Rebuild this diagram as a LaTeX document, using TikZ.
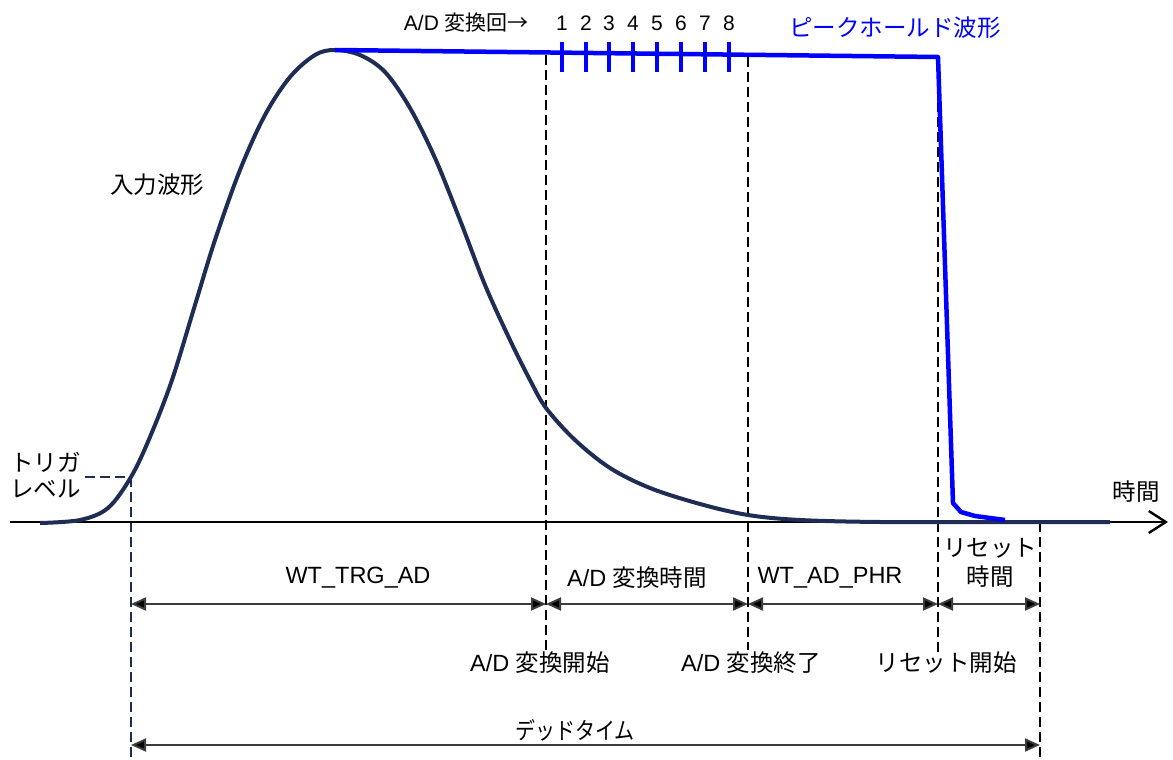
\documentclass[tikz,border=0pt]{standalone}
\usepackage{fontspec}
\setmainfont{Liberation Sans}
\newfontfamily\jp{Noto Sans CJK JP}
\usetikzlibrary{arrows.meta}
\definecolor{navy}{RGB}{31,45,84}
\definecolor{pkblue}{RGB}{0,0,255}
\definecolor{dimgray}{RGB}{60,60,60}
\tikzset{
  lbl/.style={font=\fontsize{23.5}{28}\selectfont, inner sep=0pt},
  num/.style={font=\fontsize{21}{24}\selectfont, inner sep=0pt},
  vdash/.style={draw=black, line width=2.6pt, dash pattern=on 10pt off 5pt},
  ndash/.style={draw=navy, line width=2.2pt, dash pattern=on 10pt off 5pt},
  dimarrow/.style={draw=dimgray, line width=2pt, {Triangle[length=15pt,width=13pt,fill=black]}-{Triangle[length=15pt,width=13pt,fill=black]}},
  tick/.style={draw=pkblue, line width=4.5pt},
}
\begin{document}
\begin{tikzpicture}[x=1pt,y=-1pt]
\useasboundingbox (0,0) rectangle (1173,760);
% named coordinates
\coordinate (axL) at (10,522);
\coordinate (axR) at (1168,522);
\coordinate (trgTop) at (131,477);
\coordinate (trgBot) at (131,760);
\coordinate (trgL) at (85,477);
\coordinate (adsTop) at (546,55);
\coordinate (adsBot) at (546,650);
\coordinate (adeTop) at (748,57);
\coordinate (adeBot) at (748,650);
\coordinate (rsTop) at (938,57);
\coordinate (rsBot) at (938,655);
\coordinate (reTop) at (1040,522);
\coordinate (reBot) at (1040,758);
\coordinate (d1) at (131,604);
\coordinate (d2) at (546,604);
\coordinate (d3) at (748,604);
\coordinate (d4) at (938,604);
\coordinate (d5) at (1040,604);
\coordinate (dtL) at (131,745);
\coordinate (dtR) at (1040,745);
\coordinate (peak) at (335,50);
\coordinate (hold) at (938,57);

% vertical dashed lines
\draw[vdash] (adsTop) -- (adsBot);
\draw[vdash] (adeTop) -- (adeBot);
\draw[vdash] (rsTop) -- (rsBot);
\draw[vdash] (reTop) -- (reBot);
\draw[ndash] (trgTop) -- (trgBot);
\draw[ndash] (trgL) -- (trgTop);

% axis
\draw[line width=2.6pt, -{Straight Barb[length=17pt,width=22pt,line width=2.4pt]}] (axL) -- (axR);

% input waveform
\draw[navy, line width=4pt, line join=round] plot[smooth, tension=0.55] coordinates {
 (40,523) (80,520) (108,508) (131,477) (150,437) (172,380) (195,305) (215,240)
 (240,170) (265,115) (290,77) (315,55) (335,50) (360,55) (385,72) (410,108)
 (435,158) (460,220) (485,285) (510,340) (530,380) (546,408) (575,440)
 (610,468) (650,488) (700,504) (748,515) (800,520) (880,522) (1000,522) (1110,522)};

% peak hold waveform
\draw[pkblue, line width=4.5pt, line join=round] (peak) -- (hold) -- (953,503) -- (961,512) -- (975,516) -- (1005,520);

% ticks
\foreach \i/\x in {1/562,2/586,3/609,4/633,5/657,6/681,7/705,8/729} {
  \draw[tick] (\x,42) -- (\x,72);
  \node[num] (n\i) at (\x,23) {\i};
}
\node[num, anchor=east] (adcnt) at (529,23) {A/D {\jp 変換回→}};
\node[lbl, text=pkblue] (pklbl) at (895,28) {\jp ピークホールド波形};
\node[lbl] (inlbl) at (157,185) {\jp 入力波形};
\node[lbl, anchor=west, align=left, font=\fontsize{23.5}{26}\selectfont\jp] (trglbl) at (10,475) {トリガ\\レベル};
\node[lbl] (timelbl) at (1136,492) {\jp 時間};

% dimension arrows
\draw[dimarrow] (d1) -- (d2);
\draw[dimarrow] (d2) -- (d3);
\draw[dimarrow] (d3) -- (d4);
\draw[dimarrow] (d4) -- (d5);
\draw[dimarrow] (dtL) -- (dtR);

\node[lbl] (l1) at (358,578) {WT\_TRG\_AD};
\node[lbl] (l2) at (637,578) {A/D {\jp 変換時間}};
\node[lbl] (l3) at (830,578) {WT\_AD\_PHR};
\node[lbl, align=center, font=\fontsize{23.5}{29}\selectfont\jp] (l4) at (990,563) {リセット\\時間};
\node[lbl] (l5) at (540,663) {A/D {\jp 変換開始}};
\node[lbl] (l6) at (751,663) {A/D {\jp 変換終了}};
\node[lbl] (l7) at (946,663) {\jp リセット開始};
\node[lbl] (l8) at (575,730) {\jp\scalebox{0.85}[1]{デッドタイム}};
\end{tikzpicture}
\end{document}
